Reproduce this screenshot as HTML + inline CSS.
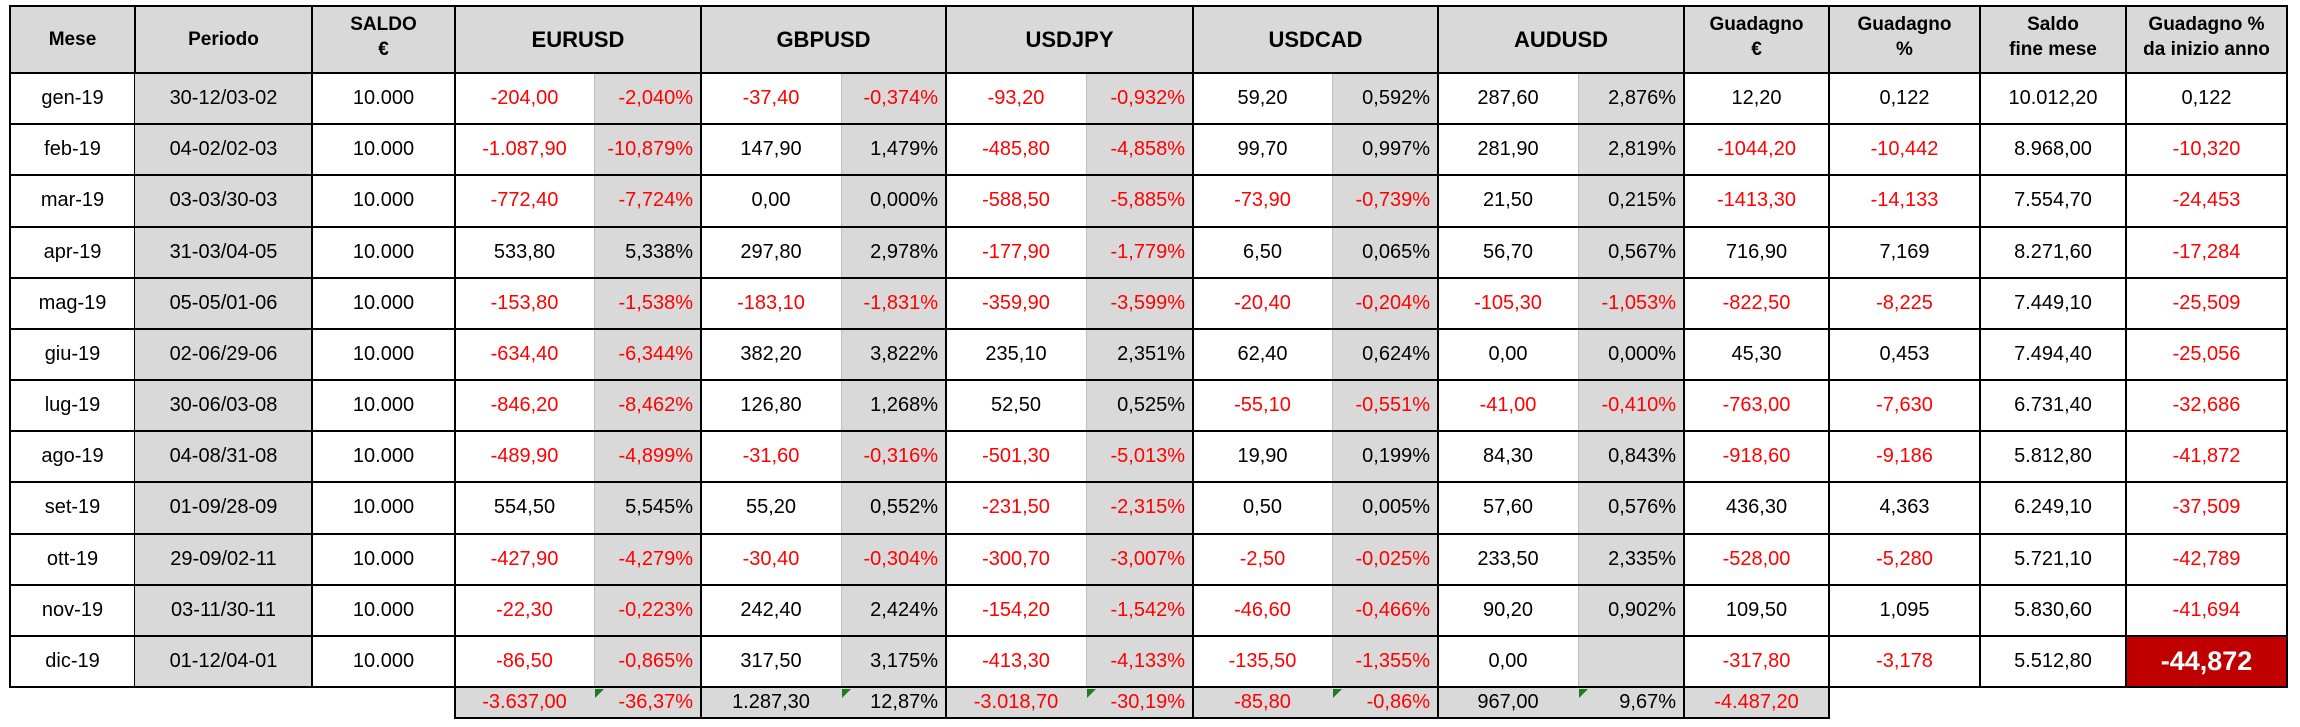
<!DOCTYPE html>
<html><head><meta charset="utf-8">
<style>
html,body{margin:0;padding:0;background:#fff;width:2300px;height:727px;overflow:hidden}
#wrap{position:relative;width:2300px;height:727px;font-family:"Liberation Sans",Arial,sans-serif}
.c{position:absolute;box-sizing:border-box;display:flex;align-items:center;justify-content:center;font-size:20px;color:#000;white-space:nowrap}
.h{background:#d9d9d9;font-weight:bold;font-size:19px;text-align:center;line-height:25px}
.g{background:#d9d9d9}
.r{color:#f00}
.rt{justify-content:flex-end;padding-right:8px}
.vl{position:absolute;background:#000}
.tri{position:absolute;width:0;height:0;border-top:9px solid #1a7f1a;border-right:9px solid transparent}
</style></head><body>
<div id="wrap"></div>
<script>
const months=["gen-19","feb-19","mar-19","apr-19","mag-19","giu-19","lug-19","ago-19","set-19","ott-19","nov-19","dic-19"];
const periods=["30-12/03-02","04-02/02-03","03-03/30-03","31-03/04-05","05-05/01-06","02-06/29-06","30-06/03-08","04-08/31-08","01-09/28-09","29-09/02-11","03-11/30-11","01-12/04-01"];
const eurVal=["-204,00","-1.087,90","-772,40","533,80","-153,80","-634,40","-846,20","-489,90","554,50","-427,90","-22,30","-86,50"];
const eurPct=["-2,040%","-10,879%","-7,724%","5,338%","-1,538%","-6,344%","-8,462%","-4,899%","5,545%","-4,279%","-0,223%","-0,865%"];
const gbpVal=["-37,40","147,90","0,00","297,80","-183,10","382,20","126,80","-31,60","55,20","-30,40","242,40","317,50"];
const gbpPct=["-0,374%","1,479%","0,000%","2,978%","-1,831%","3,822%","1,268%","-0,316%","0,552%","-0,304%","2,424%","3,175%"];
const jpyVal=["-93,20","-485,80","-588,50","-177,90","-359,90","235,10","52,50","-501,30","-231,50","-300,70","-154,20","-413,30"];
const jpyPct=["-0,932%","-4,858%","-5,885%","-1,779%","-3,599%","2,351%","0,525%","-5,013%","-2,315%","-3,007%","-1,542%","-4,133%"];
const cadVal=["59,20","99,70","-73,90","6,50","-20,40","62,40","-55,10","19,90","0,50","-2,50","-46,60","-135,50"];
const cadPct=["0,592%","0,997%","-0,739%","0,065%","-0,204%","0,624%","-0,551%","0,199%","0,005%","-0,025%","-0,466%","-1,355%"];
const audVal=["287,60","281,90","21,50","56,70","-105,30","0,00","-41,00","84,30","57,60","233,50","90,20","0,00"];
const audPct=["2,876%","2,819%","0,215%","0,567%","-1,053%","0,000%","-0,410%","0,843%","0,576%","2,335%","0,902%",""];
const gainEur=["12,20","-1044,20","-1413,30","716,90","-822,50","45,30","-763,00","-918,60","436,30","-528,00","109,50","-317,80"];
const gainPct=["0,122","-10,442","-14,133","7,169","-8,225","0,453","-7,630","-9,186","4,363","-5,280","1,095","-3,178"];
const saldoFine=["10.012,20","8.968,00","7.554,70","8.271,60","7.449,10","7.494,40","6.731,40","5.812,80","6.249,10","5.721,10","5.830,60","5.512,80"];
const ytdPct=["0,122","-10,320","-24,453","-17,284","-25,509","-25,056","-32,686","-41,872","-37,509","-42,789","-41,694","-44,872"];
const totVal=["-3.637,00","1.287,30","-3.018,70","-85,80","967,00"];
const totPct=["-36,37%","12,87%","-30,19%","-0,86%","9,67%"];
const totGain="-4.487,20";

const W=document.getElementById('wrap');
const X=[10,135,312,455,594,701,841,946,1086,1193,1332,1438,1578,1684,1829,1980,2126,2287];
const TOP=6,HB=73,RH=51.17,BOT=687,SB=718;
function cell(x0,x1,y0,y1,txt,cls){
  const d=document.createElement('div');
  d.className='c '+(cls||'');
  d.style.left=x0+'px';d.style.top=y0+'px';d.style.width=(x1-x0)+'px';d.style.height=(y1-y0)+'px';
  d.innerHTML=txt;
  W.appendChild(d);return d;
}
function line(x,y,w,h,col){
  const d=document.createElement('div');d.className='vl';
  d.style.left=x+'px';d.style.top=y+'px';d.style.width=w+'px';d.style.height=h+'px';
  if(col)d.style.background=col;
  
  
  W.appendChild(d);
}
const heads=[[0,1,"Mese"],[1,2,"Periodo"],[2,3,"SALDO<br>€"],[3,5,"EURUSD"],[5,7,"GBPUSD"],[7,9,"USDJPY"],[9,11,"USDCAD"],[11,13,"AUDUSD"],[13,14,"Guadagno<br>€"],[14,15,"Guadagno<br>%"],[15,16,"Saldo<br>fine mese"],[16,17,"Guadagno %<br>da inizio anno"]];
const bg=cell(X[0],X[17],TOP,HB,"","h");


heads.forEach(h=>{
  const big=(h[2].indexOf('USD')>=0);
  const d=cell(X[h[0]],X[h[1]],TOP,HB,h[2],'h');
  d.style.background='transparent';
  if(big)d.style.fontSize='22px';
  if(h[2].indexOf('<br>')>=0){d.style.alignItems='flex-start';d.style.paddingTop='6px';}
  
  
});
const pairs=[[eurVal,eurPct],[gbpVal,gbpPct],[jpyVal,jpyPct],[cadVal,cadPct],[audVal,audPct]];
const pairNames=["eurusd","gbpusd","usdjpy","usdcad","audusd"];
const neg=s=>s.trim().charAt(0)==='-';
for(let i=0;i<months.length;i++){
  const y0=HB+i*RH,y1=HB+(i+1)*RH;
  let d=cell(X[0],X[1],y0,y1,months[i]);
  
  
  d=cell(X[1],X[2],y0,y1,periods[i],'g');
  
  
  d=cell(X[2],X[3],y0,y1,"10.000");
  
  
  pairs.forEach((p,k)=>{
    let v=cell(X[3+2*k],X[4+2*k],y0,y1,p[0][i],neg(p[0][i])?'r':'');
    
    
    let q=cell(X[4+2*k],X[5+2*k],y0,y1,p[1][i],'g rt '+(neg(p[1][i])?'r':''));
    
    
  });
  d=cell(X[13],X[14],y0,y1,gainEur[i],neg(gainEur[i])?'r':'');
  
  
  d=cell(X[14],X[15],y0,y1,gainPct[i],neg(gainPct[i])?'r':'');
  
  
  d=cell(X[15],X[16],y0,y1,saldoFine[i]);
  
  
  if(i===months.length-1){
    d=cell(X[16],X[17],y0,y1,ytdPct[i]);
    d.style.background='#c00000';d.style.color='#fff';d.style.fontWeight='bold';d.style.fontSize='27px';
  } else d=cell(X[16],X[17],y0,y1,ytdPct[i],neg(ytdPct[i])?'r':'');
  
  
}
const sg=cell(X[3],X[14],BOT,SB,"","g");


totVal.forEach((t,k)=>{
  let v=cell(X[3+2*k],X[4+2*k],BOT,SB,t,neg(t)?'r':'');
  
  
  let q=cell(X[4+2*k],X[5+2*k],BOT,SB,totPct[k],'rt '+(neg(totPct[k])?'r':''));
  
  
  const t2=document.createElement('div');t2.className='tri';
  t2.style.left=(X[4+2*k]+1)+'px';t2.style.top=(BOT+2)+'px';
  
  
  W.appendChild(t2);
});
let tg=cell(X[13],X[14],BOT,SB,totGain,'r');


const major=[0,1,2,3,5,7,9,11,13,14,15,16,17];
major.forEach(k=>{ if(k===1) return; line(X[k]-1,TOP,2,BOT-TOP+1); });
line(X[1]-1,TOP,2,HB-TOP);
line(X[1]-1,HB,1,BOT-HB,'#000');
[4,6,8,10,12].forEach(k=>line(X[k],HB,1,BOT-HB,'#bfbfbf'));
line(X[0]-1,TOP-1,X[17]-X[0]+2,2);
for(let i=0;i<=12;i++) line(X[0]-1,Math.round(HB+i*RH)-1,X[17]-X[0]+2,2);
[3,5,7,9,11,13,14].forEach(k=>line(X[k]-1,BOT,2,SB-BOT+1));
line(X[3]-1,SB-1,X[14]-X[3]+2,2);
</script>
</body></html>
